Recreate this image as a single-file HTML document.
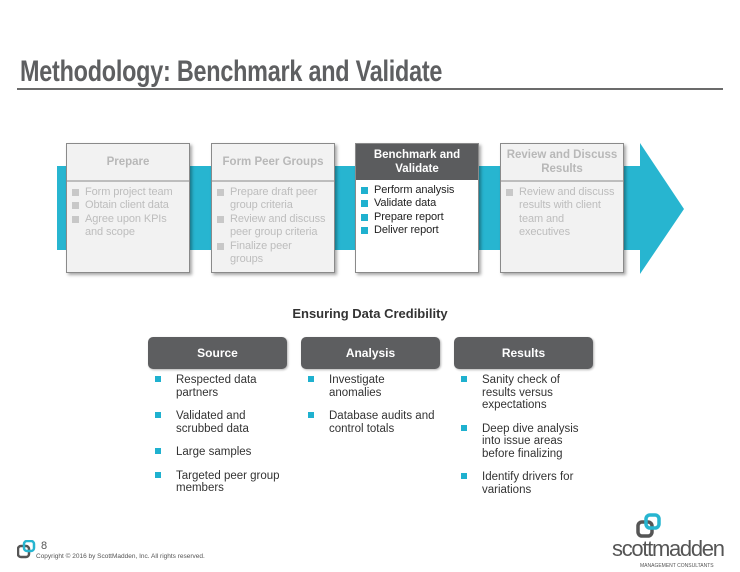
<!DOCTYPE html>
<html><head><style>
body{margin:0;width:740px;height:572px;background:#fff;position:relative;font-family:"Liberation Sans",Arial,sans-serif;overflow:hidden}
.a{position:absolute}
.box{position:absolute;top:143px;width:124px;height:130px;background:#f2f2f2;border:1px solid #8a8a8a;box-shadow:2px 2px 3px rgba(0,0,0,.35);box-sizing:border-box}
.hd{height:36px;border-bottom:2px solid #bdbdbd;display:flex;align-items:center;justify-content:center;text-align:center;font-weight:bold;font-size:11.5px;color:#b8b8b8;line-height:14px}
.box ul{list-style:none;margin:4px 0 0 0;padding:0 0 0 18px;font-size:11px;line-height:13.4px;color:#bdbdbd;letter-spacing:-0.1px}
.box li{position:relative}
.box li:before{content:"";position:absolute;left:-13px;top:3px;width:7px;height:7px;background:#c8c8c8}
.act{background:#fff}
.act .hd{background:#5b5c5e;color:#fff;border-bottom:none}
.act ul{color:#222}
.act li:before{background:#1fb1cf}
.ph{position:absolute;top:337px;width:139px;height:32px;background:#5d5e60;border-radius:5px;color:#fff;font-weight:bold;font-size:12px;text-align:center;line-height:32px;box-shadow:1px 1px 2px rgba(0,0,0,.3)}
.lst{position:absolute;top:374px;width:130px;font-size:11.5px;line-height:12.5px;color:#333}
.lst div{position:relative;padding-left:21px;margin-bottom:11px}
.lst div:before{content:"";position:absolute;left:0;top:2px;width:6px;height:6px;background:#1fb1cf}
</style></head><body>
<div class="a" style="left:20px;top:55px;font-size:30px;font-weight:bold;color:#5e5f61;font-family:'Liberation Sans Narrow','Liberation Sans',sans-serif;transform:scaleX(.78);transform-origin:left;white-space:nowrap;letter-spacing:-0.3px">Methodology: Benchmark and Validate</div>
<div class="a" style="left:17px;top:88px;width:706px;height:2px;background:#6b6b6b"></div>
<svg class="a" style="left:0;top:0" width="740" height="300"><polygon points="57,166 640,166 640,143 684,209 640,274 640,250 57,250" fill="#27b5d0"/></svg>
<div class="box" style="left:66px"><div class="hd">Prepare</div><ul><li>Form project team</li><li>Obtain client data</li><li>Agree upon KPIs<br>and scope</li></ul></div>
<div class="box" style="left:211px"><div class="hd">Form Peer Groups</div><ul><li>Prepare draft peer<br>group criteria</li><li>Review and discuss<br>peer group criteria</li><li>Finalize peer<br>groups</li></ul></div>
<div class="box act" style="left:355px"><div class="hd">Benchmark and<br>Validate</div><ul><li>Perform analysis</li><li>Validate data</li><li>Prepare report</li><li>Deliver report</li></ul></div>
<div class="box" style="left:500px"><div class="hd">Review and Discuss<br>Results</div><ul><li>Review and discuss<br>results with client<br>team and<br>executives</li></ul></div>
<div class="a" style="left:0;width:740px;top:306px;text-align:center;font-weight:bold;font-size:13px;color:#333">Ensuring Data Credibility</div>
<div class="ph" style="left:148px">Source</div>
<div class="ph" style="left:301px">Analysis</div>
<div class="ph" style="left:454px">Results</div>
<div class="lst" style="left:155px"><div>Respected data partners</div><div>Validated and scrubbed data</div><div>Large samples</div><div>Targeted peer group members</div></div>
<div class="lst" style="left:308px"><div>Investigate anomalies</div><div>Database audits and control totals</div></div>
<div class="lst" style="left:461px"><div>Sanity check of results versus expectations</div><div>Deep dive analysis into issue areas before finalizing</div><div>Identify drivers for variations</div></div>
<svg class="a" style="left:17px;top:540px" width="20" height="20"><rect x="1" y="6" width="11" height="11" rx="3" fill="none" stroke="#555" stroke-width="2.5"/><rect x="7" y="1" width="10" height="10" rx="3" fill="none" stroke="#27b5d0" stroke-width="2.5"/></svg>
<div class="a" style="left:41px;top:540px;font-size:11px;color:#555">8</div>
<div class="a" style="left:36px;top:553px;font-size:6.5px;color:#555">Copyright © 2016 by ScottMadden, Inc. All rights reserved.</div>
<svg class="a" style="left:636px;top:513px" width="28" height="28"><rect x="2" y="9" width="14" height="14" rx="4" fill="none" stroke="#555" stroke-width="3.5"/><rect x="10" y="2" width="13" height="13" rx="4" fill="none" stroke="#27b5d0" stroke-width="3.5"/></svg>
<div class="a" style="left:612px;top:536px;font-size:22px;color:#555;letter-spacing:-1.3px">scottmadden</div>
<div class="a" style="left:640px;top:563px;font-size:5px;color:#555">MANAGEMENT CONSULTANTS</div>
</body></html>
